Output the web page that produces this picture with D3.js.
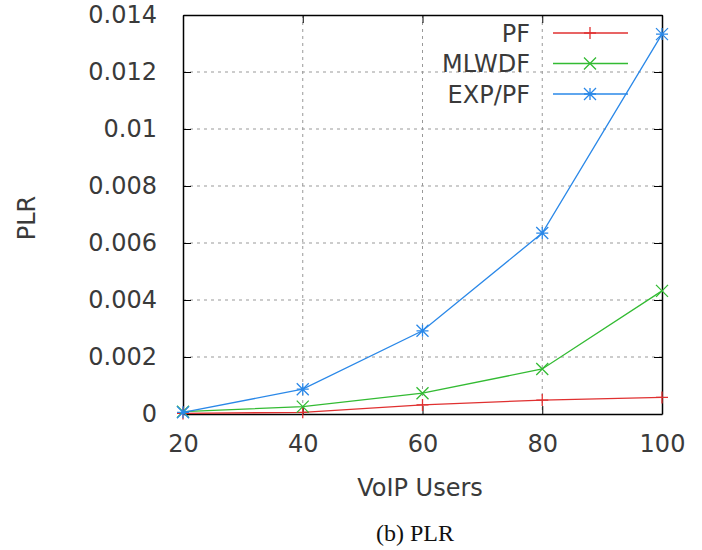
<!DOCTYPE html>
<html>
<head>
<meta charset="utf-8">
<script src="https://cdn.jsdelivr.net/npm/d3@7"></script>
<style>
body { margin: 0; background: #fff; }
text { font-family: "DejaVu Sans", sans-serif; }
</style>
</head>
<body>
<div id="chart"></div>
<script>
// chart data
var users = [20, 40, 60, 80, 100];
var pf = [0.00002, 0.00006, 0.00032, 0.00049, 0.00058];
var mlwdf = [0.00008, 0.00026, 0.00073, 0.00158, 0.00432];
var exppf = [0.00006, 0.00087, 0.00292, 0.00635, 0.01333];
var xTicks = [20, 40, 60, 80, 100];
var yTicks = [0, 0.002, 0.004, 0.006, 0.008, 0.01, 0.012, 0.014];

var series = [
    {name: "PF", values: pf, color: "#e03030", marker: "plus"},
    {name: "MLWDF", values: mlwdf, color: "#33bb33", marker: "cross"},
    {name: "EXP/PF", values: exppf, color: "#2a88e8", marker: "star"}
];

var svgWidth = 702;
var svgHeight = 550;

var margin = {top: 15, right: 40, bottom: 136, left: 183};
var width = 662 - margin.left;
var height = 414 - margin.top;
var fontSize = 24;
var textColor = "#3a3a3a";

var svg = d3.select("#chart")
    .append("svg")
    .attr("width", svgWidth)
    .attr("height", svgHeight);

var chartGroup = svg.append("g")
    .attr("transform", `translate(${margin.left}, ${margin.top})`);

var x = d3.scaleLinear().domain([20, 100]).range([0, width]);
var y = d3.scaleLinear().domain([0, 0.014]).range([height, 0]);

// dashed grid
chartGroup.selectAll(".hgrid")
    .data(yTicks.slice(1, -1))
    .enter().append("line")
    .attr("x1", 0).attr("x2", width)
    .attr("y1", d => y(d)).attr("y2", d => y(d))
    .attr("stroke", "#999").attr("stroke-dasharray", "3,4").attr("stroke-width", 1);

chartGroup.selectAll(".vgrid")
    .data(xTicks.slice(1, -1))
    .enter().append("line")
    .attr("y1", 0).attr("y2", height)
    .attr("x1", d => x(d)).attr("x2", d => x(d))
    .attr("stroke", "#999").attr("stroke-dasharray", "3,4").attr("stroke-width", 1);

// axes with inward ticks, mirrored
var tickLen = 8;
chartGroup.append("g")
    .attr("transform", `translate(0, ${height})`)
    .call(d3.axisBottom(x).tickValues(xTicks).tickSizeInner(-tickLen).tickSizeOuter(0).tickPadding(21).tickFormat(d3.format("d")));
chartGroup.append("g")
    .call(d3.axisTop(x).tickValues(xTicks).tickSizeInner(-tickLen).tickSizeOuter(0).tickFormat(""));
chartGroup.append("g")
    .call(d3.axisLeft(y).tickValues(yTicks).tickSizeInner(-tickLen).tickSizeOuter(0).tickPadding(26)
        .tickFormat(d => d === 0 ? "0" : d3.format("")(+d.toFixed(3))));
chartGroup.append("g")
    .attr("transform", `translate(${width}, 0)`)
    .call(d3.axisRight(y).tickValues(yTicks).tickSizeInner(-tickLen).tickSizeOuter(0).tickFormat(""));

chartGroup.selectAll(".domain").attr("stroke", "#000").attr("stroke-width", 1.5);
chartGroup.selectAll(".tick line").attr("stroke", "#000").attr("stroke-width", 1);
chartGroup.selectAll(".tick text")
    .attr("font-size", fontSize)
    .attr("fill", textColor)
    .style("font-family", "DejaVu Sans, sans-serif");

function drawMarker(g, marker, color) {
    var s = 6;
    var p = g.append("path").attr("stroke", color).attr("stroke-width", 1.3).attr("fill", "none");
    var d = "";
    if (marker === "plus" || marker === "star") d += `M${-s},0H${s}M0,${-s}V${s}`;
    if (marker === "cross" || marker === "star") d += `M${-s},${-s}L${s},${s}M${-s},${s}L${s},${-s}`;
    p.attr("d", d);
}

var line = d3.line()
    .x((d, i) => x(users[i]))
    .y(d => y(d));

series.forEach(function(s) {
    chartGroup.append("path")
        .datum(s.values)
        .attr("d", line)
        .attr("fill", "none")
        .attr("stroke", s.color)
        .attr("stroke-width", 1.3);
    s.values.forEach(function(v, i) {
        var g = chartGroup.append("g").attr("transform", `translate(${x(users[i])}, ${y(v)})`);
        drawMarker(g, s.marker, s.color);
    });
});

// legend
var legend = svg.append("g");
series.forEach(function(s, i) {
    var ly = 33 + i * 30.5;
    legend.append("text")
        .attr("x", 530).attr("y", ly)
        .attr("dy", "0.36em")
        .attr("text-anchor", "end")
        .attr("font-size", fontSize)
        .attr("fill", textColor)
        .text(s.name);
    legend.append("line")
        .attr("x1", 553).attr("x2", 628)
        .attr("y1", ly).attr("y2", ly)
        .attr("stroke", s.color).attr("stroke-width", 1.3);
    var g = legend.append("g").attr("transform", `translate(590, ${ly})`);
    drawMarker(g, s.marker, s.color);
});

// axis labels
svg.append("text")
    .attr("transform", "translate(35, 218) rotate(-90)")
    .attr("text-anchor", "middle")
    .attr("font-size", fontSize)
    .attr("fill", textColor)
    .text("PLR");

svg.append("text")
    .attr("x", 420).attr("y", 496)
    .attr("text-anchor", "middle")
    .attr("font-size", fontSize)
    .attr("fill", textColor)
    .text("VoIP Users");

svg.append("text")
    .attr("x", 415).attr("y", 541)
    .attr("text-anchor", "middle")
    .attr("font-size", 24)
    .attr("fill", "#111")
    .style("font-family", "Liberation Serif, Times New Roman, serif")
    .text("(b) PLR");
</script>
</body>
</html>
